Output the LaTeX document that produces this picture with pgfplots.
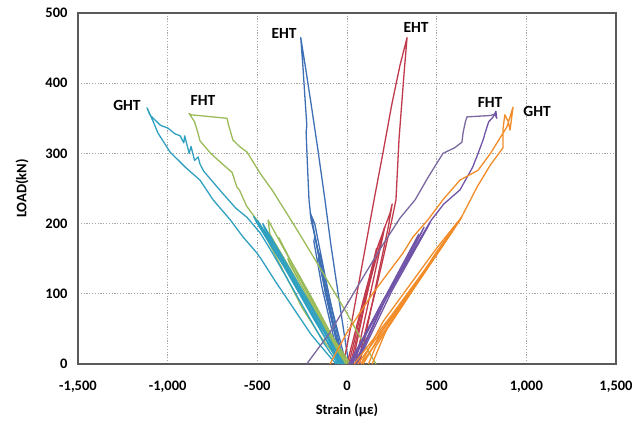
\documentclass[border=0pt]{standalone}
\usepackage{fontspec}
\setmainfont{Carlito}
\usepackage{pgfplots}
\pgfplotsset{compat=1.18}
\definecolor{cB}{RGB}{62,111,181}
\definecolor{cR}{RGB}{192,58,76}
\definecolor{cG}{RGB}{155,187,89}
\definecolor{cC}{RGB}{48,160,192}
\definecolor{cP}{RGB}{112,84,168}
\definecolor{cPo}{RGB}{122,104,158}
\definecolor{cO}{RGB}{242,140,40}
\definecolor{axc}{RGB}{90,90,90}
\begin{document}
\begin{tikzpicture}
\useasboundingbox (-78pt,-62pt) rectangle (566pt,364pt);
\begin{axis}[at={(0,0)}, anchor=south west, scale only axis,
  width=538pt, height=351pt,
  xmin=-1500, xmax=1500, ymin=0, ymax=500,
  xtick={-1500,-1000,-500,0,500,1000,1500},
  xticklabels={{-1,500},{-1,000},{-500},{0},{500},{1,000},{1,500}},
  ytick={0,100,200,300,400,500},
  yticklabels={0,100,200,300,400,500},
  major tick length=0pt,
  grid=major,
  grid style={gray!70, line width=0.7pt, dash pattern=on 1.2pt off 1.6pt},
  axis line style={axc, line width=1.2pt},
  tick label style={font=\fontsize{14.5}{16}\selectfont\bfseries},
  xticklabel style={yshift=-13pt},
  yticklabel style={xshift=-7pt},
  xlabel={Strain (με)}, ylabel={LOAD(kN)},
  label style={font=\fontsize{14.5}{16}\selectfont\bfseries},
  x label style={at={(axis description cs:0.5,-0.131)}, anchor=center},
  y label style={at={(axis description cs:-0.104,0.5)}, anchor=center},
  every axis plot/.append style={line width=1.3pt, no markers, line join=round},
  clip=true,
]
% ---- EHT negative (blue)
\addplot[cB] coordinates {(-20,0) (-60,40) (-110,100) (-160,160) (-200,205) (-212,234) (-220,280) (-228,330) (-224,340) (-236,385) (-246,425) (-258,465) (-230,420) (-200,370) (-165,310) (-123,234) (-90,170) (-55,110) (-20,50) (10,0)};
\addplot[cB] coordinates {(-30,0) (-120,100) (-195,205) (-205,215) (-180,200) (-110,110) (-40,25) (-10,0)};
\addplot[cB] coordinates {(-40,0) (-140,110) (-185,175) (-178,182) (-130,120) (-60,35) (-30,0)};
\addplot[cB] coordinates {(-25,0) (-100,80) (-160,150) (-152,158) (-95,90) (-5,0)};
% ---- EHT positive (red)
\addplot[cR] coordinates {(-20,0) (30,65) (80,135) (151,234) (200,300) (250,370) (295,425) (335,465) (320,420) (305,370) (290,320) (273,234) (250,205) (210,160) (160,105) (110,55) (60,0)};
\addplot[cR] coordinates {(0,0) (100,100) (175,170) (240,215) (252,228) (230,195) (160,110) (70,0)};
\addplot[cR] coordinates {(20,0) (120,110) (210,195) (200,182) (130,100) (45,0)};
\addplot[cR] coordinates {(10,0) (90,85) (165,165) (160,155) (95,80) (30,0)};
% ---- FHT negative (green)
\addplot[cG] coordinates {(-30,0) (-60,10) (-150,40) (-250,80) (-350,130) (-450,180) (-502,205) (-560,225) (-600,248) (-614,252) (-641,273) (-708,288) (-760,300) (-820,318) (-831,329) (-850,345) (-881,357) (-870,355) (-669,350) (-660,340) (-636,319) (-600,310) (-558,302) (-480,270) (-418,248) (-300,200) (-200,158) (-100,115) (0,72) (80,35) (162,0)};
\addplot[cG] coordinates {(-20,0) (-150,70) (-300,140) (-440,205) (-430,185) (-300,128) (-150,60) (10,0)};
\addplot[cG] coordinates {(-10,0) (-200,90) (-380,180) (-368,172) (-200,96) (0,0)};
\addplot[cG] coordinates {(-15,0) (-180,75) (-330,150) (-320,143) (-170,72) (20,0)};
% ---- GHT negative (cyan)
\addplot[cC] coordinates {(-60,0) (-95,10) (-200,42) (-300,80) (-400,118) (-480,150) (-502,158) (-580,181) (-650,205) (-747,234) (-820,262) (-900,280) (-987,302) (-1054,329) (-1080,345) (-1115,365) (-1100,355) (-1040,340) (-998,336) (-960,328) (-930,325) (-910,315) (-905,325) (-880,300) (-870,310) (-850,290) (-830,295) (-820,285) (-800,275) (-700,245) (-620,222) (-558,209) (-485,187) (-420,160) (-330,120) (-230,75) (-130,30) (-50,0)};
\addplot[cC] coordinates {(-30,0) (-200,80) (-350,145) (-500,205) (-485,196) (-340,135) (-185,65) (-40,0)};
\addplot[cC] coordinates {(-20,0) (-170,70) (-330,140) (-470,200) (-455,190) (-310,126) (-160,58) (-15,0)};
\addplot[cC] coordinates {(-45,0) (-190,70) (-360,145) (-520,210) (-505,202) (-350,138) (-180,62) (-30,0)};
% ---- FHT positive (purple)
\addplot[cP] coordinates {(30,0) (100,40) (200,85) (300,130) (407,177) (470,205) (540,228) (630,248) (700,280) (731,300) (760,320) (770,329) (790,345) (815,352) (830,360) (835,350) (825,356)};
\addplot[cPo] coordinates {(825,356) (800,354) (669,352) (660,345) (647,329) (641,316) (600,308) (535,300) (450,265) (380,234) (296,208) (200,170) (100,128) (0,85) (-100,43) (-225,0)};
\addplot[cP] coordinates {(20,0) (200,90) (463,202) (448,194) (250,104) (55,0)};
\addplot[cP] coordinates {(40,0) (230,100) (430,195) (415,187) (215,92) (50,0)};
\addplot[cP] coordinates {(10,0) (180,80) (400,185) (388,178) (175,78) (25,0)};
% ---- GHT positive (orange)
\addplot[cO] coordinates {(-95,0) (0,45) (145,101) (312,158) (368,181) (450,205) (535,234) (630,262) (731,276) (800,300) (892,338) (926,366) (909,333) (900,345) (880,355) (870,335) (870,308) (798,283) (725,252) (630,205) (613,201) (500,165) (400,130) (300,95) (200,60) (89,6) (80,0)};
\addplot[cO] coordinates {(60,0) (200,50) (400,120) (613,201) (598,193) (400,118) (200,48) (90,0)};
\addplot[cO] coordinates {(40,0) (250,70) (450,140) (600,195) (585,188) (390,114) (160,25) (120,0)};
\addplot[cO] coordinates {(80,0) (300,80) (500,160) (640,210) (625,203) (430,130) (230,55) (140,0)};
% ---- labels
\node[font=\fontsize{15.5}{17}\selectfont\bfseries] at (axis cs:-351,471) {EHT};
\node[font=\fontsize{15.5}{17}\selectfont\bfseries] at (axis cs:385,480) {EHT};
\node[font=\fontsize{15.5}{17}\selectfont\bfseries] at (axis cs:-1227,368) {GHT};
\node[font=\fontsize{15.5}{17}\selectfont\bfseries] at (axis cs:-803,375) {FHT};
\node[font=\fontsize{15.5}{17}\selectfont\bfseries] at (axis cs:798,373) {FHT};
\node[font=\fontsize{15.5}{17}\selectfont\bfseries] at (axis cs:1060,360) {GHT};
\end{axis}
\end{tikzpicture}
\end{document}
